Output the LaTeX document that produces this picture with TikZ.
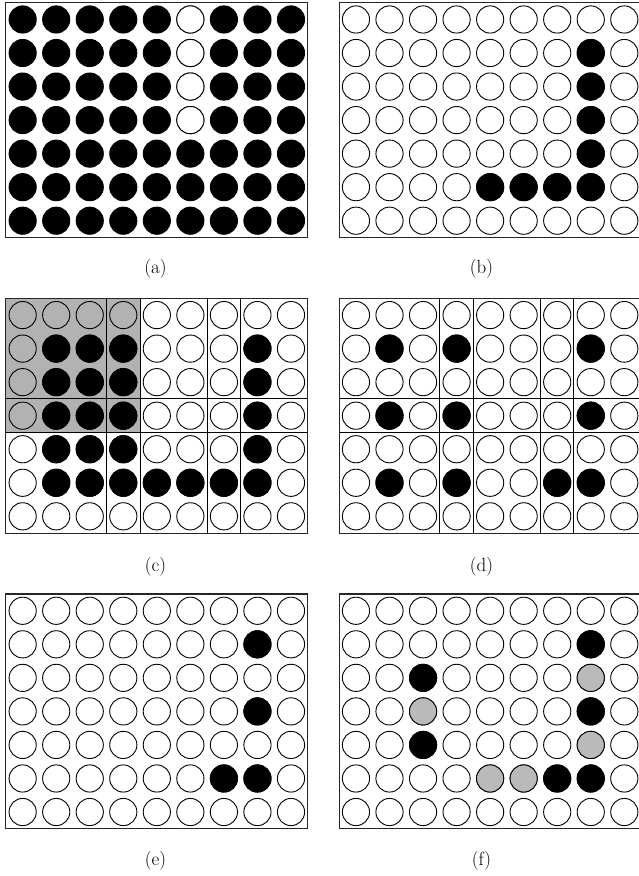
\documentclass[tikz,border=0pt]{standalone}
\usepackage{fontspec}
\begin{document}
\begin{tikzpicture}[x=1pt,y=-1pt,
  dot/.style={draw=black,line width=0.9pt},
  blk/.style={dot,fill=black},
  wht/.style={dot,fill=white},
  gry/.style={dot,fill=black!27},
  frm/.style={draw=black!85,line width=1.1pt},
  gl/.style={draw=black,line width=1pt},
  lab/.style={font=\fontsize{19}{21}\selectfont,inner sep=0pt}]
\useasboundingbox (0,0) rectangle (639,876);
\def\csz{33.54}
\def\rad{13.6}
\newcommand\allcirc[3]{%
  \foreach \cc in {1,...,9}{\foreach \rw in {1,...,7}{%
    \path[#3] ({#1+\csz*(\cc-0.5)},{#2+\csz*(\rw-0.5)}) circle[radius=\rad];}}}
\newcommand\somecirc[4]{%
  \foreach \cc/\rw in {#4}{%
    \path[#3] ({#1+\csz*(\cc-0.5)},{#2+\csz*(\rw-0.5)}) circle[radius=\rad];}}
\newcommand\gridlines[2]{%
  \foreach \k in {3,4,6,7}{\draw[gl] ({#1+\csz*\k},#2) -- ++(0,{7*\csz});}
  \foreach \k in {3,4}{\draw[gl] (#1,{#2+\csz*\k}) -- ++({9*\csz},0);}}
\newcommand\frameat[2]{\draw[frm] (#1,#2) rectangle ++({9*\csz},{7*\csz});}

% (a)
\allcirc{5.9}{2.7}{blk}
\somecirc{5.9}{2.7}{wht}{6/1,6/2,6/3,6/4}
\frameat{5.9}{2.7}
\node[lab] (la) at (155.5,269) {(a)};

% (b)
\allcirc{339.2}{2.7}{dot}
\somecirc{339.2}{2.7}{blk}{8/2,8/3,8/4,8/5,5/6,6/6,7/6,8/6}
\frameat{339.2}{2.7}
\node[lab] (lb) at (481.5,269) {(b)};

% (c)
\fill[black!30] (5.9,298.3) rectangle ++({4*\csz},{4*\csz});
\allcirc{5.9}{298.3}{dot}
\somecirc{5.9}{298.3}{blk}{2/2,3/2,4/2,8/2,2/3,3/3,4/3,8/3,2/4,3/4,4/4,8/4,2/5,3/5,4/5,8/5,2/6,3/6,4/6,5/6,6/6,7/6,8/6}
\gridlines{5.9}{298.3}
\frameat{5.9}{298.3}
\node[lab] (lc) at (155.5,567) {(c)};

% (d)
\allcirc{339.2}{298.3}{dot}
\somecirc{339.2}{298.3}{blk}{2/2,4/2,8/2,2/4,4/4,8/4,2/6,4/6,7/6,8/6}
\gridlines{339.2}{298.3}
\frameat{339.2}{298.3}
\node[lab] (ld) at (481.5,567) {(d)};

% (e)
\allcirc{5.9}{594}{dot}
\somecirc{5.9}{594}{blk}{8/2,8/4,7/6,8/6}
\frameat{5.9}{594}
\node[lab] (le) at (155.5,861) {(e)};

% (f)
\allcirc{339.2}{594}{dot}
\somecirc{339.2}{594}{blk}{8/2,3/3,8/4,3/5,7/6,8/6}
\somecirc{339.2}{594}{gry}{8/3,3/4,8/5,5/6,6/6}
\frameat{339.2}{594}
\node[lab] (lf) at (481.5,861) {(f)};
\end{tikzpicture}
\end{document}
